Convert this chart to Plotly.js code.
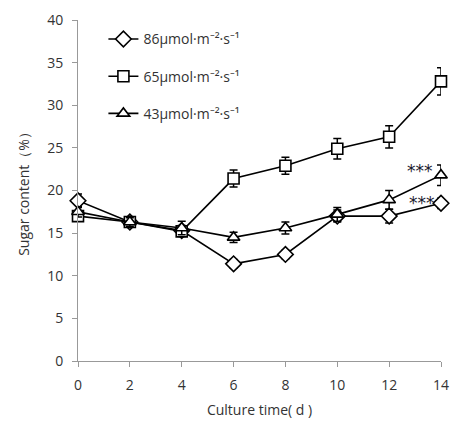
<!DOCTYPE html>
<html>
<head>
<meta charset="utf-8">
<script src="https://cdn.plot.ly/plotly-3.0.1.min.js"></script>
<style>html,body{margin:0;padding:0;background:#fff;}#chart{width:450px;height:425px;}</style>
</head>
<body>
<div id="chart"></div>
<script>
const days = [0, 2, 4, 6, 8, 10, 12, 14];
const names = ["86μmol·m⁻²·s⁻¹", "65μmol·m⁻²·s⁻¹", "43μmol·m⁻²·s⁻¹"];
const sugar86 = [18.8, 16.3, 15.3, 11.4, 12.5, 17.0, 17.0, 18.5];
const err86   = [0.8, 0.5, 0.6, 0.5, 0.5, 0.7, 0.8, 0.6];
const sugar65 = [17.0, 16.3, 15.2, 21.4, 22.9, 24.9, 26.3, 32.8];
const err65   = [0.6, 0.5, 0.6, 1.0, 1.0, 1.2, 1.3, 1.6];
const sugar43 = [17.5, 16.3, 15.6, 14.5, 15.6, 17.2, 18.9, 21.8];
const err43   = [0.6, 0.5, 0.8, 0.6, 0.7, 0.8, 1.1, 1.2];
const symbols = ["diamond", "square", "triangle-up"];
const starLabels = ["***", "***"];
const starX = [13.2, 13.25];
const starY = [22.3, 18.5];

const series = [sugar86, sugar65, sugar43];
const errs = [err86, err65, err43];

const traces = series.map((ys, i) => ({
  x: days, y: ys, name: names[i], type: "scatter", mode: "lines+markers",
  legendgroup: "g" + i,
  line: {color: "#000", width: 1.6},
  marker: {symbol: symbols[i], size: i === 0 ? 12 : 11,
           color: "#fff", line: {color: "#000", width: 1.6}},
  error_y: {type: "data", array: errs[i], visible: true, color: "#000", thickness: 1.5, width: 4},
  cliponaxis: false
}));

const axisFont = {family: "Open Sans, sans-serif", size: 14, color: "#333"};
const layout = {
  width: 450, height: 425,
  margin: {l: 78, r: 9, t: 20, b: 64},
  paper_bgcolor: "#fff", plot_bgcolor: "#fff",
  showlegend: true,
  legend: {x: 0.07, y: 0.99, xanchor: "left", yanchor: "top",
           font: {family: "Open Sans, sans-serif", size: 14, color: "#333"},
           tracegroupgap: 16, bgcolor: "rgba(0,0,0,0)", itemwidth: 30},
  xaxis: {range: [0, 14], tickvals: days, ticks: "outside", ticklen: 5, tickcolor: "#999",
          showline: true, linecolor: "#999", linewidth: 1, showgrid: false, zeroline: false,
          tickfont: axisFont, ticklabelstandoff: 6,
          title: {text: "Culture time( d )", font: axisFont, standoff: 12}},
  yaxis: {range: [0, 40], dtick: 5, ticks: "outside", ticklen: 5, tickcolor: "#999",
          showline: true, linecolor: "#999", linewidth: 1, showgrid: false, zeroline: false,
          tickfont: axisFont, ticklabelstandoff: 6,
          title: {text: "Sugar content（%）", font: axisFont, standoff: 14}},
  annotations: starLabels.map((t, i) => ({
    x: starX[i], y: starY[i], text: t, showarrow: false,
    font: {family: "DejaVu Sans, sans-serif", size: 17, color: "#1a1a2e"}
  }))
};

Plotly.newPlot("chart", traces, layout, {staticPlot: true});
</script>
</body>
</html>
